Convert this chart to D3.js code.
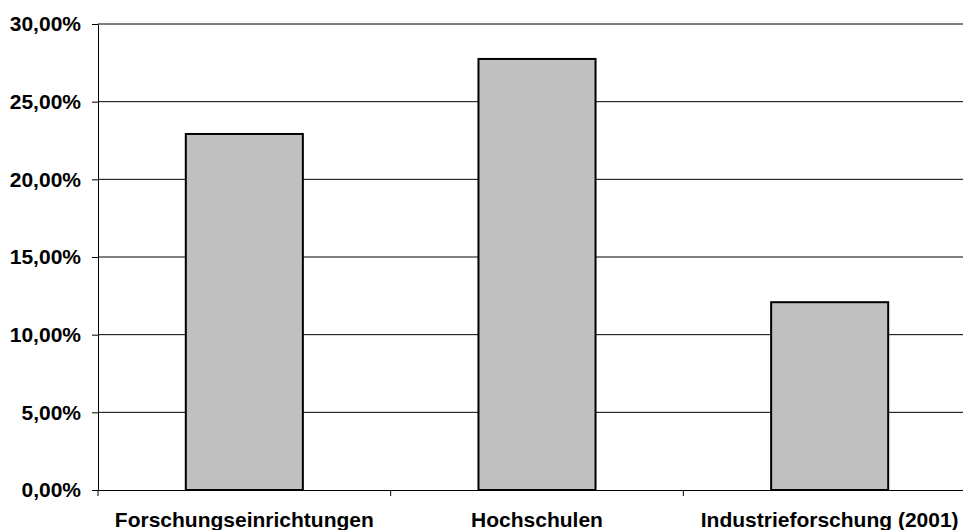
<!DOCTYPE html>
<html>
<head>
<meta charset="utf-8">
<script src="https://cdn.jsdelivr.net/npm/d3@7"></script>
<style>
  html, body { margin: 0; padding: 0; background: #fff; }
  svg { display: block; }
  text { font-family: "Liberation Sans", Arial, sans-serif; font-weight: bold; fill: #000; }
</style>
</head>
<body>
<svg id="chart" width="963" height="530"></svg>
<script>
// Anteile nach Forschungsbereich
const categories = ["Forschungseinrichtungen", "Hochschulen", "Industrieforschung (2001)"];
const values = [0.2292, 0.2775, 0.1209];
const yTicks = [0, 0.05, 0.10, 0.15, 0.20, 0.25, 0.30];

const width = 963, height = 530;
const margin = { left: 98, top: 24, bottom: 40 };
const plotRight = 976;
const plotBottom = height - margin.bottom;

const de = d3.formatLocale({ decimal: ",", thousands: ".", grouping: [3], currency: ["", " €"] });
const pct = de.format(".2%");

const svg = d3.select("#chart");

const x = d3.scaleBand()
  .domain(categories)
  .range([margin.left, plotRight])
  .paddingInner(0.6)
  .paddingOuter(0.3);

const y = d3.scaleLinear()
  .domain([0, 0.30])
  .range([plotBottom, margin.top]);

// horizontal gridlines
svg.append("g")
  .selectAll("line")
  .data(yTicks.filter(d => d > 0))
  .join("line")
  .attr("x1", margin.left)
  .attr("x2", plotRight)
  .attr("y1", d => y(d))
  .attr("y2", d => y(d))
  .attr("stroke", "#000")
  .attr("stroke-width", 1);

// bars
svg.append("g")
  .selectAll("rect")
  .data(categories)
  .join("rect")
  .attr("x", d => x(d))
  .attr("width", x.bandwidth())
  .attr("y", (d, i) => y(values[i]))
  .attr("height", (d, i) => y(0) - y(values[i]))
  .attr("fill", "#c0c0c0")
  .attr("stroke", "#000")
  .attr("stroke-width", 2);

// y axis
const yAxis = d3.axisLeft(y)
  .tickValues(yTicks)
  .tickFormat(pct)
  .tickSizeInner(6)
  .tickSizeOuter(0)
  .tickPadding(11);

const gy = svg.append("g")
  .attr("transform", `translate(${margin.left},0)`)
  .call(yAxis);
gy.select(".domain").attr("stroke", "#000").attr("stroke-width", 1);
gy.selectAll(".tick line").attr("stroke", "#000");
gy.selectAll("text").style("font-size", "21px").style("font-family", "'Liberation Sans', Arial, sans-serif").style("font-weight", "bold");

// x axis with labels at band centres
const xAxis = d3.axisBottom(x)
  .tickSize(0)
  .tickSizeOuter(0)
  .tickPadding(22);

const gx = svg.append("g")
  .attr("transform", `translate(0,${plotBottom})`)
  .call(xAxis);
gx.select(".domain").attr("stroke", "#000").attr("stroke-width", 1);
gx.selectAll("text").style("font-size", "21px").style("font-family", "'Liberation Sans', Arial, sans-serif").style("font-weight", "bold");

// category separator ticks on the x axis
const gap = (x.step() - x.bandwidth()) / 2;
const bounds = categories.map(d => x(d) - gap).concat([x(categories[categories.length - 1]) + x.bandwidth() + gap]);
svg.append("g")
  .selectAll("line")
  .data(bounds)
  .join("line")
  .attr("x1", d => d)
  .attr("x2", d => d)
  .attr("y1", plotBottom)
  .attr("y2", plotBottom + 6)
  .attr("stroke", "#000");
</script>
</body>
</html>
